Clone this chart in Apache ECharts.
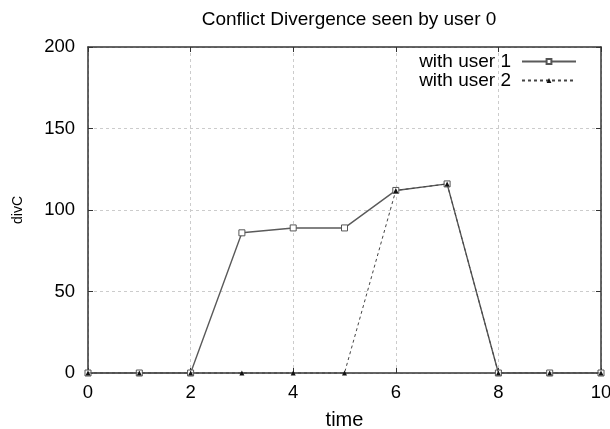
<!DOCTYPE html>
<html>
<head>
<meta charset="utf-8">
<script src="https://cdn.jsdelivr.net/npm/echarts@6/dist/echarts.min.js"></script>
<style>
  html, body { margin: 0; padding: 0; background: #fff; }
  #chart { width: 610px; height: 429px; }
</style>
</head>
<body>
<div id="chart"></div>
<script>
const timeSteps = [0, 1, 2, 3, 4, 5, 6, 7, 8, 9, 10];
const withUser1 = [0, 0, 0, 86, 89, 89, 112, 116, 0, 0, 0];
const withUser2 = [0, 0, 0, 0, 0, 0, 112, 116, 0, 0, 0];
const xTicks = [0, 2, 4, 6, 8, 10];
const yTicks = [0, 50, 100, 150, 200];

const myChart = echarts.init(document.getElementById('chart'));
const font = 'Liberation Sans, Arial, sans-serif';

const pairs = (ys) => timeSteps.map((t, i) => [t, ys[i]]);

const axisCommon = {
    type: 'value',
    axisLine: {show: true, onZero: false, lineStyle: {color: '#333', width: 1.5}},
    axisTick: {show: true, inside: true, length: 5, lineStyle: {color: '#333'}},
};

let option = {
    animation: false,
    backgroundColor: '#fff',
    title: {
        text: 'Conflict Divergence seen by user 0',
        left: 344,
        textAlign: 'center',
        top: 5,
        textStyle: {fontFamily: font, fontSize: 19, fontWeight: 'normal', color: '#000'}
    },
    grid: {left: 88, right: 9, top: 47, bottom: 56, outerBoundsMode: 'none', containLabel: false},
    legend: {
        orient: 'vertical',
        align: 'right',
        right: 33,
        top: 52,
        padding: 0,
        itemGap: 0,
        itemWidth: 54,
        itemHeight: 6,
        textStyle: {fontFamily: font, fontSize: 19, color: '#000', lineHeight: 19, padding: [0, 6, 0, 0]},
        data: ['with user 1', 'with user 2']
    },
    xAxis: [
        Object.assign({}, axisCommon, {
            min: xTicks[0], max: xTicks[xTicks.length - 1], interval: 2,
            name: 'time', nameLocation: 'middle', nameGap: 37,
            nameTextStyle: {fontFamily: font, fontSize: 20, color: '#000'},
            axisLabel: {fontFamily: font, fontSize: 18.5, color: '#000', margin: 10},
            splitLine: {show: true, lineStyle: {color: '#ccc', type: [3, 3]}}
        }),
        Object.assign({}, axisCommon, {
            position: 'top',
            min: xTicks[0], max: xTicks[xTicks.length - 1], interval: 2,
            axisLabel: {show: false},
            splitLine: {show: false}
        })
    ],
    yAxis: [
        Object.assign({}, axisCommon, {
            min: yTicks[0], max: yTicks[yTicks.length - 1], interval: 50,
            name: 'divC', nameLocation: 'middle', nameGap: 63,
            nameTextStyle: {fontFamily: font, fontSize: 14, color: '#000'},
            axisLabel: {fontFamily: font, fontSize: 18.5, color: '#000', margin: 13},
            splitLine: {show: true, lineStyle: {color: '#ccc', type: [3, 3]}}
        }),
        Object.assign({}, axisCommon, {
            position: 'right',
            min: yTicks[0], max: yTicks[yTicks.length - 1], interval: 50,
            axisLabel: {show: false},
            splitLine: {show: false}
        })
    ],
    series: [
        {
            name: 'with user 1',
            type: 'line',
            data: pairs(withUser1),
            symbol: 'rect',
            symbolSize: 6,
            showAllSymbol: true,
            lineStyle: {color: '#5a5a5a', width: 1.4},
            itemStyle: {color: '#fff', borderColor: '#555', borderWidth: 1},
            z: 2
        },
        {
            name: 'with user 2',
            type: 'line',
            data: pairs(withUser2),
            symbol: 'triangle',
            symbolSize: 5,
            showAllSymbol: true,
            lineStyle: {color: '#444', width: 1, type: [3, 3]},
            itemStyle: {color: '#111'},
            z: 3
        }
    ]
};
option && myChart.setOption(option);
</script>
</body>
</html>
